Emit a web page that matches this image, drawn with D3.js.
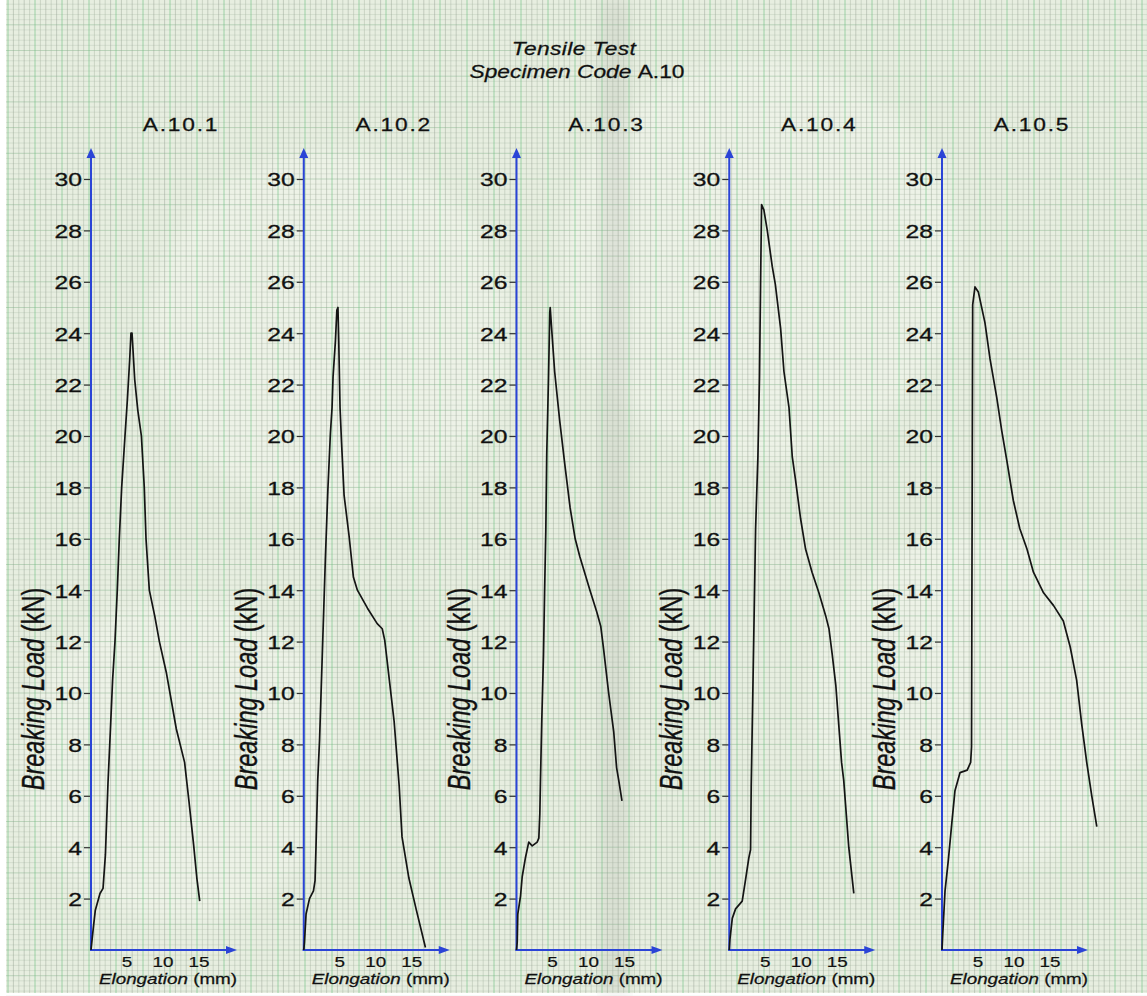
<!DOCTYPE html>
<html>
<head>
<meta charset="utf-8">
<script src="https://cdn.jsdelivr.net/npm/d3@7"></script>
<style>
  html, body { margin: 0; padding: 0; background: #ffffff; }
  svg { display: block; font-family: "Liberation Sans", Arial, sans-serif; }
</style>
</head>
<body>
<svg id="chart" width="1147" height="996"></svg>
<script>
// ---- data ---------------------------------------------------------------
const specimenCodes = ["A.10.1", "A.10.2", "A.10.3", "A.10.4", "A.10.5"];
const loadTicks = [2, 4, 6, 8, 10, 12, 14, 16, 18, 20, 22, 24, 26, 28, 30];
const elongTicks = [5, 10, 15];

// elongation (mm) / breaking load (kN) for each specimen
const elong_A10_1 = [0, 0.3, 0.6, 1.25, 1.67, 2.0, 2.36, 2.7, 3.0, 3.33, 3.65, 3.93, 4.26, 4.72, 5.05, 5.37, 5.55, 5.7, 6.07, 6.5, 7.0, 7.4, 7.64, 8.1, 8.85, 9.5, 10.46, 11.85, 13.0, 13.6, 14.25, 14.7, 15.1];
const load_A10_1  = [0, 0.8, 1.55, 2.2, 2.4, 3.7, 6.5, 8.6, 10.5, 12, 14, 16, 18, 20, 21.4, 22.95, 24.0, 24.0, 22.2, 21.0, 20, 18, 16, 14, 13.0, 12, 10.8, 8.6, 7.3, 5.8, 4.1, 2.8, 1.9];

const elong_A10_2 = [0, 0.1, 0.32, 0.8, 1.35, 1.57, 1.7, 1.94, 2.2, 2.6, 3.0, 3.35, 3.7, 3.93, 4.07, 4.4, 4.6, 4.75, 4.86, 5.04, 5.24, 5.6, 6.3, 6.9, 7.45, 8.85, 10.2, 10.9, 11.25, 11.85, 12.55, 13.25, 13.65, 14.6, 15.6, 16.9];
const load_A10_2  = [0, 0.3, 1.4, 2.0, 2.3, 2.7, 4.0, 6.6, 8.2, 11.7, 15.2, 17.9, 20.1, 21.1, 22.3, 23.7, 24.9, 25.0, 23.7, 21.1, 19.8, 17.7, 16.1, 14.5, 14.0, 13.3, 12.7, 12.5, 12.05, 10.6, 8.9, 6.4, 4.4, 2.8, 1.6, 0.1];

const elong_A10_3 = [0, 0.1, 0.18, 0.56, 0.79, 1.25, 1.7, 2.18, 2.87, 3.1, 3.24, 3.33, 3.5, 3.75, 3.9, 4.07, 4.2, 4.44, 4.62, 4.68, 4.9, 5.3, 6.0, 6.75, 7.45, 8.15, 8.8, 10.2, 11.15, 11.7, 12.1, 12.8, 13.5, 13.9, 14.2, 14.65];
const load_A10_3  = [0, 0.3, 1.4, 2.1, 2.85, 3.6, 4.2, 4.05, 4.2, 4.35, 5.3, 6.6, 8.8, 11.5, 13.9, 16.3, 19.3, 22.2, 24.8, 25.0, 24.1, 22.5, 20.6, 18.8, 17.2, 16.0, 15.3, 14.0, 13.15, 12.6, 11.7, 10.0, 8.5, 7.1, 6.6, 5.8];

const elong_A10_4 = [0, 0.09, 0.42, 0.88, 1.8, 2.27, 2.73, 2.96, 3.05, 3.2, 3.43, 3.66, 3.98, 4.2, 4.35, 4.49, 4.81, 5.28, 5.97, 6.4, 7.13, 7.6, 8.3, 8.75, 9.2, 9.9, 10.6, 11.5, 12.45, 13.4, 13.85, 14.3, 14.8, 15.2, 15.6, 15.9, 16.6, 17.3];
const load_A10_4  = [0, 0.4, 1.23, 1.6, 1.9, 2.75, 3.6, 3.9, 6.35, 8.8, 12.6, 16.4, 19.2, 22.3, 25.9, 29.0, 28.8, 28.0, 26.6, 25.9, 24.2, 22.5, 21.1, 19.2, 18.3, 16.8, 15.6, 14.7, 13.9, 13.0, 12.5, 11.5, 10.3, 8.8, 7.3, 6.6, 4.0, 2.2];

const elong_A10_5 = [0, 0.1, 0.42, 0.88, 1.35, 1.8, 2.5, 3.5, 3.98, 4.1, 4.26, 4.58, 5.05, 5.97, 6.67, 7.6, 8.3, 9.0, 9.9, 10.8, 11.8, 12.7, 14.1, 15.5, 16.85, 17.8, 18.7, 19.4, 20.1, 20.8, 21.5];
const load_A10_5  = [0, 0.6, 2.3, 3.5, 4.9, 6.2, 6.9, 7.0, 7.3, 7.9, 25.1, 25.8, 25.6, 24.4, 23.0, 21.5, 20.2, 19.05, 17.5, 16.4, 15.6, 14.7, 13.9, 13.4, 12.8, 11.8, 10.5, 8.8, 7.3, 6.0, 4.8];

const elongSeries = [elong_A10_1, elong_A10_2, elong_A10_3, elong_A10_4, elong_A10_5];
const loadSeries  = [load_A10_1, load_A10_2, load_A10_3, load_A10_4, load_A10_5];

// ---- layout -------------------------------------------------------------
const W = 1147, H = 996;
const STRETCH = 1.3;            // horizontal stretch applied to all lettering
const AXIS_BLUE = "#2b44d6";
const INK = "#111111";
const plotBottom = 950;
const plotWidth = 144;          // 0..20 mm

const svg = d3.select("#chart");

// shared load scale
const y = d3.scaleLinear().domain([0, 30]).range([plotBottom, 179]);
// left edge of each panel's plot area
const panelX = d3.scalePoint().domain(specimenCodes).range([91, 942]);

// ---- graph-paper background ---------------------------------------------
const defs = svg.append("defs");
defs.append("filter").attr("id", "soft")
  .append("feGaussianBlur").attr("stdDeviation", 9);

svg.append("rect").attr("width", W).attr("height", H).attr("fill", "#ffffff");
const paper = svg.append("g");
paper.append("rect").attr("x", 6).attr("y", 0).attr("width", W - 6).attr("height", H - 3)
  .attr("fill", "#e7eee0");

// pale patches in the paper
[[330, 330, 180], [760, 260, 200], [180, 760, 160], [980, 700, 170]].forEach(([cx, cy, r]) => {
  paper.append("circle").attr("cx", cx).attr("cy", cy).attr("r", r)
    .attr("fill", "#f5f8f0").attr("opacity", 0.45).attr("filter", "url(#soft)");
});

// horizontal rulings (0.2 kN pitch)
const hStep = (y(0) - y(1)) / 5;
const hLines = d3.range(-40, 195);
paper.selectAll("line.h").data(hLines).join("line")
  .attr("x1", 6).attr("x2", W)
  .attr("y1", i => plotBottom - i * hStep).attr("y2", i => plotBottom - i * hStep)
  .attr("stroke", i => i % 5 === 0 ? "#8fb994" : "#aab8a4")
  .attr("stroke-opacity", i => i % 5 === 0 ? 0.5 : 0.3)
  .attr("stroke-width", 1);

// vertical rulings
const vStep = 5.4;
const vLines = d3.range(0, Math.ceil(W / vStep));
paper.selectAll("line.v").data(vLines).join("line")
  .attr("x1", i => 8 + i * vStep).attr("x2", i => 8 + i * vStep)
  .attr("y1", 0).attr("y2", H - 3)
  .attr("stroke", i => i % 5 === 0 ? "#6dbf80" : (i % 2 ? "#8f9a8c" : "#a4b1a0"))
  .attr("stroke-opacity", i => i % 5 === 0 ? 0.6 : 0.42)
  .attr("stroke-width", 1);

// fold shadow in the sheet
paper.append("rect").attr("x", 600).attr("y", 0).attr("width", 30).attr("height", H)
  .attr("fill", "#8c9188").attr("opacity", 0.16).attr("filter", "url(#soft)");

// ---- helper for stretched lettering -------------------------------------
function stretchedText(parent, x, yPos, anchor, size) {
  return parent.append("g")
    .attr("transform", `translate(${x},${yPos}) scale(${STRETCH},1)`)
    .append("text")
    .attr("text-anchor", anchor)
    .attr("font-size", size)
    .attr("fill", INK)
    .attr("stroke", INK).attr("stroke-width", 0.25);
}

// ---- heading -------------------------------------------------------------
const t1 = stretchedText(svg, 574, 55, "middle", 17.5);
t1.attr("font-style", "italic").attr("letter-spacing", 0.3).text("Tensile Test");
const t2 = stretchedText(svg, 577, 78, "middle", 17.5);
t2.append("tspan").attr("font-style", "italic").text("Specimen Code ");
t2.append("tspan").text(" A.10");

// ---- panels ------------------------------------------------------------
specimenCodes.forEach((code, i) => {
  const x0 = panelX(code);
  const x = d3.scaleLinear().domain([0, 20]).range([x0, x0 + plotWidth]);
  const g = svg.append("g");

  // panel caption
  stretchedText(g, x0 + 90, 131, "middle", 17.5)
    .attr("letter-spacing", 1.4).text(code);

  // load axis ticks and labels
  const yAxis = d3.axisLeft(y).tickValues(loadTicks).tickSize(7).tickPadding(2)
    .tickFormat(d3.format("d"));
  const ya = g.append("g").attr("transform", `translate(${x0},0)`).call(yAxis);
  ya.select(".domain").remove();
  ya.selectAll(".tick line").attr("stroke", "#333333").attr("stroke-width", 1.2);
  ya.selectAll(".tick text")
    .attr("font-family", "Liberation Sans, Arial, sans-serif")
    .attr("font-size", 19).attr("fill", INK)
    .attr("stroke", INK).attr("stroke-width", 0.3)
    .attr("x", -9 / STRETCH).attr("dy", "0.36em")
    .attr("transform", `scale(${STRETCH},1)`);

  // elongation axis labels
  const xAxis = d3.axisBottom(x).tickValues(elongTicks).tickSize(0).tickPadding(7);
  const xa = g.append("g").attr("transform", `translate(0,${plotBottom})`).call(xAxis);
  xa.select(".domain").remove();
  xa.selectAll(".tick text")
    .attr("font-family", "Liberation Sans, Arial, sans-serif")
    .attr("font-size", 14.5).attr("fill", INK)
    .attr("stroke", INK).attr("stroke-width", 0.2)
    .attr("transform", `scale(${STRETCH},1)`)
    .attr("x", 0);
  xa.selectAll(".tick").attr("transform", d => `translate(${x(d)},0)`);

  // blue axis lines with arrowheads
  const yTop = 148;
  g.append("line").attr("x1", x0).attr("x2", x0).attr("y1", plotBottom + 1).attr("y2", yTop + 6)
    .attr("stroke", AXIS_BLUE).attr("stroke-width", 2);
  g.append("path")
    .attr("d", `M${x0},${yTop} L${x0 - 4.5},${yTop + 10} L${x0 + 4.5},${yTop + 10} Z`)
    .attr("fill", AXIS_BLUE);
  const xEnd = x0 + 146;
  g.append("line").attr("x1", x0 - 1).attr("x2", xEnd - 6).attr("y1", plotBottom).attr("y2", plotBottom)
    .attr("stroke", AXIS_BLUE).attr("stroke-width", 2);
  g.append("path")
    .attr("d", `M${xEnd},${plotBottom} L${xEnd - 11},${plotBottom - 4} L${xEnd - 11},${plotBottom + 4} Z`)
    .attr("fill", AXIS_BLUE);

  // axis titles
  const yl = g.append("g")
    .attr("transform", `translate(${x0 - 58},${689}) scale(${STRETCH},1) rotate(-90)`)
    .append("text").attr("text-anchor", "middle").attr("dominant-baseline", "central")
    .attr("font-size", 23.5).attr("fill", INK)
    .attr("stroke", INK).attr("stroke-width", 0.3);
  yl.append("tspan").attr("font-style", "italic").text("Breaking Load");
  yl.append("tspan").text(" (kN)");

  const xl = stretchedText(g, x0 + 77, 984, "middle", 14.5);
  xl.append("tspan").attr("font-style", "italic").text("Elongation");
  xl.append("tspan").text(" (mm)");

  // load-elongation curve
  const pts = d3.zip(elongSeries[i], loadSeries[i]);
  const line = d3.line().x(d => x(d[0])).y(d => y(d[1])).curve(d3.curveLinear);
  g.append("path").datum(pts).attr("d", line)
    .attr("fill", "none").attr("stroke", "#141414").attr("stroke-width", 1.7)
    .attr("stroke-linejoin", "round");
});
</script>
</body>
</html>
